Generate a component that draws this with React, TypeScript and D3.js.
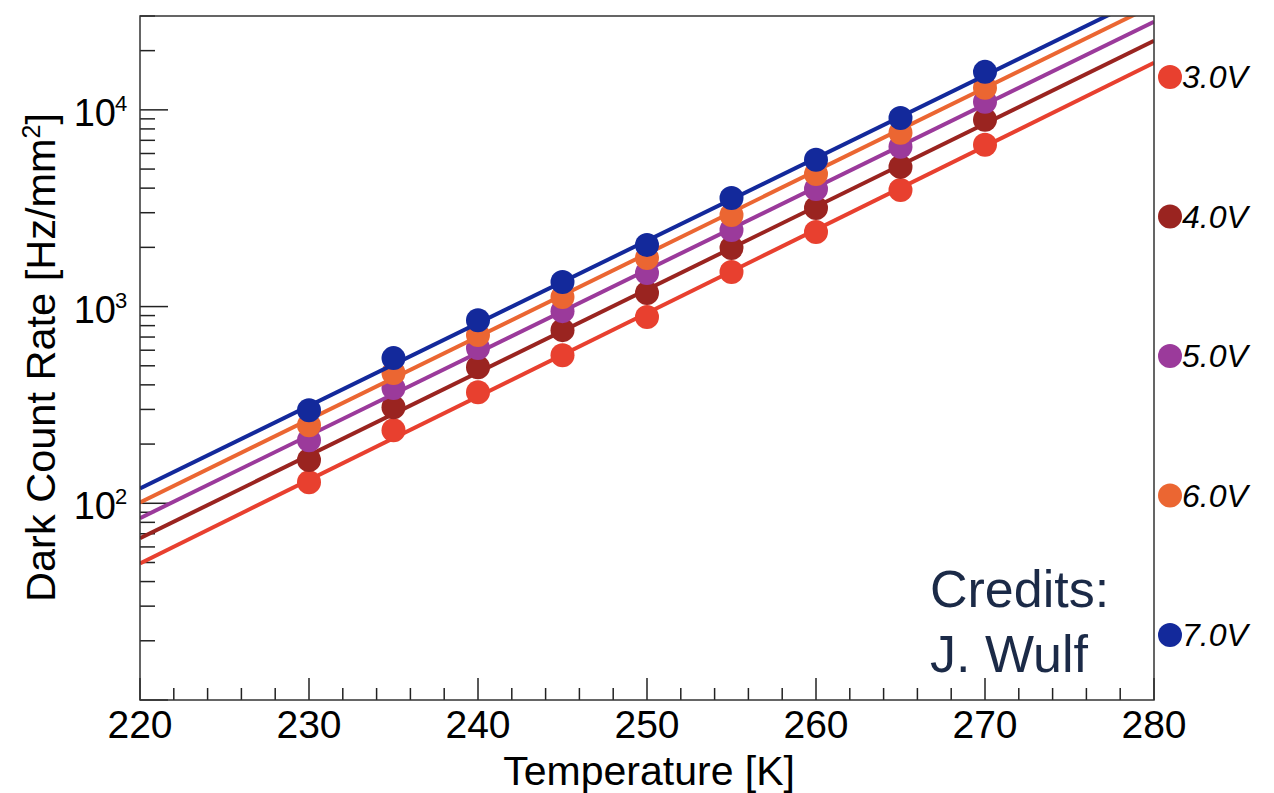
import React, { useEffect, useRef } from 'react';
import * as d3 from 'd3';

// temperatures where the dark count rate was measured [K]
const temperatures = [230, 235, 240, 245, 250, 255, 260, 265, 270];

// over-voltage of each series
const voltages = ['3.0V', '4.0V', '5.0V', '6.0V', '7.0V'];

// dark count rate [Hz/mm^2]
const rate3V = [128, 235, 367, 566, 885, 1500, 2393, 3918, 6640];
const rate4V = [166, 308, 492, 759, 1171, 1985, 3170, 5130, 8896];
const rate5V = [209, 385, 615, 948, 1480, 2450, 3963, 6490, 10990];
const rate6V = [249, 459, 716, 1117, 1766, 2924, 4724, 7640, 12940];
const rate7V = [297, 547, 853, 1334, 2056, 3565, 5570, 9100, 15600];

// exponential fit evaluated at the ends of the axis (220 K and 280 K)
const fitAt220 = [49.5, 66.4, 84, 101, 119];
const fitAt280 = [17340, 22440, 28050, 34100, 39360];

const colors = ['#e8402f', '#9a2420', '#9b3a9b', '#eb6632', '#13299b'];

const xMajor = [220, 230, 240, 250, 260, 270, 280];
const yMajor = [100, 1000, 10000];

export default function App() {
  const ref = useRef<SVGSVGElement>(null);

  useEffect(() => {
    const svg = d3.select(ref.current);
    svg.selectAll('*').remove();

    const font = '"Liberation Sans", Arial, Helvetica, sans-serif';
    const left = 140, right = 1154, top = 16, bottom = 700;

    const x = d3.scaleLinear().domain([220, 280]).range([left, right]);
    const y = d3.scaleLog().domain([10, 30000]).range([bottom, top]);

    const series = [rate3V, rate4V, rate5V, rate6V, rate7V];

    svg.append('defs').append('clipPath').attr('id', 'plot-clip')
      .append('rect')
      .attr('x', left).attr('y', top)
      .attr('width', right - left).attr('height', bottom - top);

    // x ticks (minor every 2 K, major every 10 K), drawn inward
    const gx = svg.append('g').attr('stroke', '#222').attr('stroke-width', 1.5);
    d3.range(220, 281, 2).forEach(t => {
      const major = t % 10 === 0;
      gx.append('line')
        .attr('x1', x(t)).attr('x2', x(t))
        .attr('y1', bottom).attr('y2', bottom - (major ? 22 : 12));
    });

    svg.append('g').selectAll('text')
      .data(xMajor)
      .enter()
      .append('text')
      .attr('x', d => x(d))
      .attr('y', 738)
      .attr('text-anchor', 'middle')
      .attr('font-family', font)
      .attr('font-size', 39)
      .attr('fill', '#000')
      .text(d => d);

    // y ticks
    const gy = svg.append('g').attr('stroke', '#222').attr('stroke-width', 1.5);
    y.ticks().forEach(v => {
      const major = yMajor.includes(v) || v === 10;
      gy.append('line')
        .attr('x1', left).attr('x2', left + (major ? 28 : 15))
        .attr('y1', y(v)).attr('y2', y(v));
    });

    const ylab = svg.append('g').attr('font-family', font).attr('fill', '#000');
    yMajor.forEach(v => {
      ylab.append('text')
        .attr('x', 116).attr('y', y(v) + 16)
        .attr('text-anchor', 'end')
        .attr('font-size', 38)
        .text('10');
      ylab.append('text')
        .attr('x', 115).attr('y', y(v) + 1)
        .attr('font-size', 22)
        .text(Math.round(Math.log10(v)));
    });

    // axis titles
    svg.append('text')
      .attr('x', 795).attr('y', 785)
      .attr('text-anchor', 'end')
      .attr('font-family', font)
      .attr('font-size', 41)
      .text('Temperature [K]');

    const yt = svg.append('text')
      .attr('transform', 'translate(55,113) rotate(-90)')
      .attr('text-anchor', 'end')
      .attr('font-family', font)
      .attr('font-size', 41.5);
    yt.append('tspan').text('Dark Count Rate [Hz/mm');
    yt.append('tspan').attr('dy', -15).attr('font-size', 25).text('2');
    yt.append('tspan').attr('dy', 15).text(']');

    // fits and points
    const plot = svg.append('g');
    const line = d3.line<[number, number]>().x(d => x(d[0])).y(d => y(d[1]));
    series.forEach((vals, i) => {
      plot.append('path')
        .attr('clip-path', 'url(#plot-clip)')
        .attr('d', line([[220, fitAt220[i]], [280, fitAt280[i]]]))
        .attr('fill', 'none')
        .attr('stroke', colors[i])
        .attr('stroke-width', 4);
      plot.selectAll(null)
        .data(vals)
        .enter()
        .append('circle')
        .attr('cx', (d, j) => x(temperatures[j]))
        .attr('cy', d => y(d))
        .attr('r', 12)
        .attr('fill', colors[i]);
    });

    // frame
    svg.append('rect')
      .attr('x', left).attr('y', top)
      .attr('width', right - left).attr('height', bottom - top)
      .attr('fill', 'none')
      .attr('stroke', '#333')
      .attr('stroke-width', 1.5);

    // legend on the right
    const ly = d3.scalePoint().domain(voltages).range([77, 635]);
    const leg = svg.append('g');
    voltages.forEach((v, i) => {
      leg.append('circle')
        .attr('cx', 1170).attr('cy', ly(v)!)
        .attr('r', 12)
        .attr('fill', colors[i]);
      leg.append('text')
        .attr('x', 1182).attr('y', ly(v)! + 11)
        .attr('font-family', font)
        .attr('font-style', 'italic')
        .attr('font-size', 32)
        .attr('fill', '#000')
        .text(v);
    });

    // credits
    const cr = svg.append('g')
      .attr('font-family', font)
      .attr('font-size', 52)
      .attr('fill', '#1b2a47');
    cr.append('text').attr('x', 930).attr('y', 607).text('Credits:');
    cr.append('text').attr('x', 930).attr('y', 672).text('J. Wulf');
  }, []);

  return (
    <div>
      <svg ref={ref} width={1274} height={793}
        style={{ position: 'absolute', left: 0, top: 0, background: '#fff' }} />
    </div>
  );
}
